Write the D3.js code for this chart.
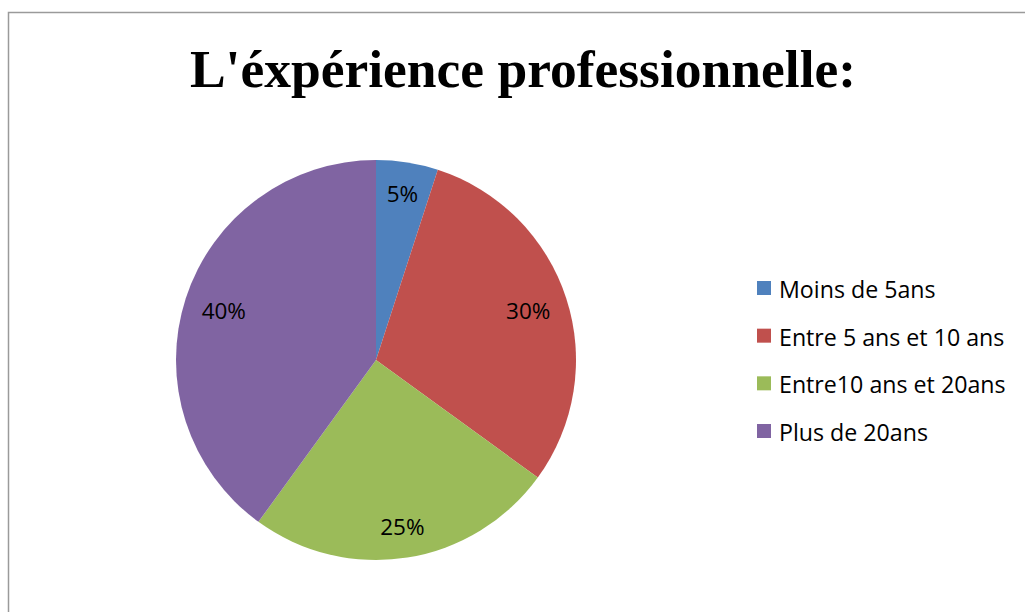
<!DOCTYPE html>
<html>
<head>
<meta charset="utf-8">
<script src="https://cdn.jsdelivr.net/npm/d3@7"></script>
<style>
  html, body { margin: 0; padding: 0; background: #fff; }
  svg { display: block; }
</style>
</head>
<body>
<script>
// Experience categories and their shares (percent)
const categories = ["Moins de 5ans", "Entre 5 ans et 10 ans", "Entre10 ans et 20ans", "Plus de 20ans"];
const values = [5, 30, 25, 40];
const labels = ["5%", "30%", "25%", "40%"];
const colors = ["#4F81BD", "#C0504D", "#9BBB59", "#8064A2"];
const title = "L'éxpérience professionnelle:";

const W = 1025, H = 612;
const svg = d3.select("body").append("svg").attr("width", W).attr("height", H);

// chart area frame (extends past the right and bottom edges)
svg.append("rect")
  .attr("x", 8.5).attr("y", 12.5)
  .attr("width", 1100).attr("height", 700)
  .attr("fill", "#fff")
  .attr("stroke", "#9a9a9a").attr("stroke-width", 1.5);

svg.append("text")
  .attr("x", 523).attr("y", 87)
  .attr("text-anchor", "middle")
  .attr("font-family", "'Liberation Serif', 'Times New Roman', serif")
  .attr("font-weight", "bold")
  .attr("font-size", 53.5)
  .attr("fill", "#000")
  .text(title);

// pie
const cx = 376, cy = 360, R = 200;
const pie = d3.pie().sort(null).value(d => d);
const arcs = pie(values);
const arc = d3.arc().innerRadius(0).outerRadius(R);
// label anchor radius: labels near the vertical axis sit a little further out
const labelRadius = d => {
  const a = (d.startAngle + d.endAngle) / 2;
  return 156 + 13 * Math.abs(Math.cos(a));
};

const g = svg.append("g").attr("transform", `translate(${cx},${cy})`);
g.selectAll("path.slice")
  .data(arcs)
  .join("path")
  .attr("class", "slice")
  .attr("d", arc)
  .attr("fill", (d, i) => colors[i]);

g.selectAll("text.lbl")
  .data(arcs)
  .join("text")
  .attr("class", "lbl")
  .attr("transform", d => {
    const r = labelRadius(d);
    return `translate(${d3.arc().innerRadius(r).outerRadius(r).centroid(d)})`;
  })
  .attr("text-anchor", "middle")
  .attr("dominant-baseline", "central")
  .attr("font-family", "'Open Sans', 'Noto Sans', sans-serif")
  .attr("font-size", 22.5)
  .attr("fill", "#000")
  .text((d, i) => labels[i]);

// legend
const legend = svg.append("g").attr("transform", "translate(757,288)");
const rowY = d3.scalePoint().domain(categories).range([0, 143]);
const items = legend.selectAll("g.item")
  .data(categories)
  .join("g")
  .attr("class", "item")
  .attr("transform", d => `translate(0,${rowY(d)})`);
items.append("rect")
  .attr("x", 0).attr("y", -7)
  .attr("width", 14).attr("height", 14)
  .attr("fill", (d, i) => colors[i]);
items.append("text")
  .attr("x", 22).attr("y", 1)
  .attr("dominant-baseline", "central")
  .attr("font-family", "'Open Sans', 'Noto Sans', sans-serif")
  .attr("font-size", 23.2)
  .attr("fill", "#000")
  .text(d => d);
</script>
</body>
</html>
